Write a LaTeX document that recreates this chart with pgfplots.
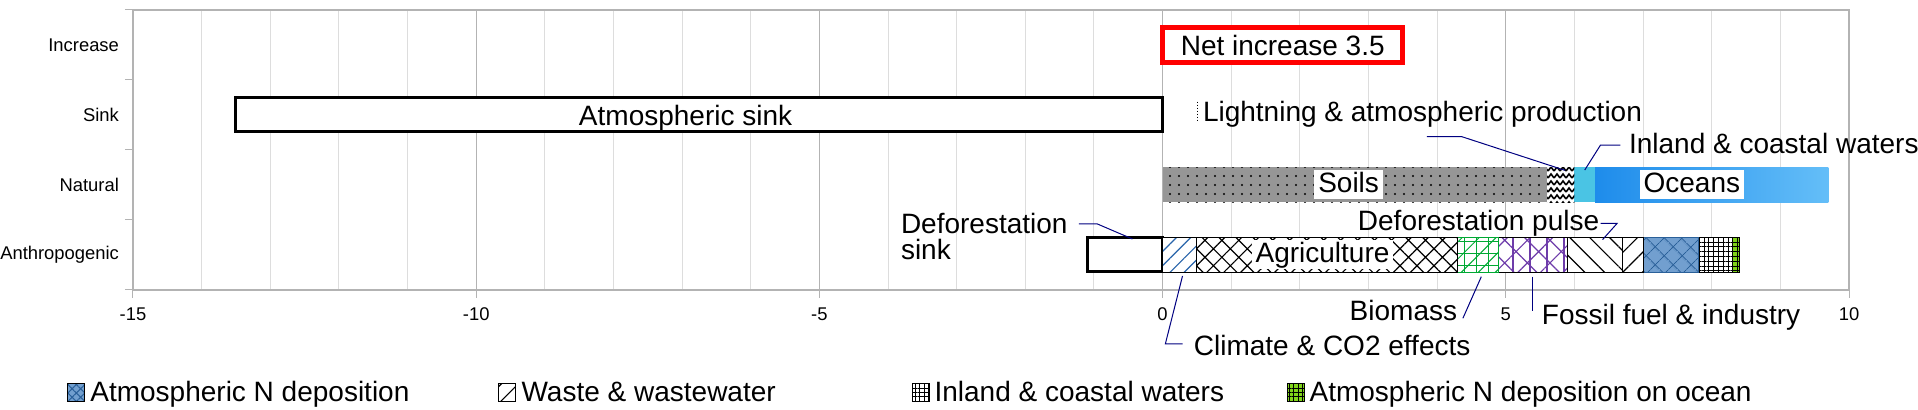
\documentclass[border=0pt]{standalone}
\usepackage{fontspec}
\setmainfont{Liberation Sans}
\usepackage{pgfplots}
\pgfplotsset{compat=1.18}
\usetikzlibrary{patterns,patterns.meta}

\definecolor{gridmaj}{RGB}{179,179,179}
\definecolor{gridmin}{RGB}{221,221,221}
\definecolor{leader}{RGB}{0,0,128}
\definecolor{soilgray}{RGB}{150,150,150}
\definecolor{oceanA}{RGB}{30,140,235}
\definecolor{oceanB}{RGB}{100,190,248}
\definecolor{inlandcyan}{RGB}{74,196,228}
\definecolor{climblue}{RGB}{40,100,170}
\definecolor{biogreen}{RGB}{0,169,51}
\definecolor{fosspurple}{RGB}{110,60,170}
\definecolor{atmblue}{RGB}{114,159,207}
\definecolor{atmdark}{RGB}{42,96,153}
\definecolor{ngreen}{RGB}{129,212,26}

\pgfdeclarepatternformonly{zigzag}{\pgfqpoint{-0.5pt}{-0.5pt}}{\pgfqpoint{3.5pt}{4pt}}{\pgfqpoint{3pt}{3.5pt}}{%
  \pgfsetlinewidth{0.8pt}%
  \pgfpathmoveto{\pgfqpoint{0pt}{0.5pt}}%
  \pgfpathlineto{\pgfqpoint{1.5pt}{2.5pt}}%
  \pgfpathlineto{\pgfqpoint{3pt}{0.5pt}}%
  \pgfusepath{stroke}}

\newcommand{\anfont}{\fontsize{14}{16}\selectfont}

\pgfplotsset{
  sqlegend/.style={legend image code/.code={\draw[##1] (0pt,-4.5pt) rectangle (8.5pt,4.5pt);}},
  baseax/.style={at={(0,0)}, anchor=south west, scale only axis, width=858pt, height=140pt,
    xmin=-15, xmax=10, ymin=-0.5, ymax=3.5},
}

\begin{document}
\begin{tikzpicture}
\useasboundingbox (-66.5pt,-60pt) rectangle (892.5pt,145pt);
% ---------------- main axis: frame, grid, single bars, legend
\begin{axis}[baseax,
  xtick={-15,-10,-5,0,5,10}, xticklabels={-15,-10,-5,0,5,10},
  minor x tick num=4, xmajorgrids, xminorgrids,
  major grid style={draw=gridmaj, line width=0.5pt},
  minor grid style={draw=gridmin, line width=0.5pt},
  ytick={-0.5,0.5,1.5,2.5,3.5}, yticklabels={,,,,},
  extra y ticks={0,1,2,3}, extra y tick labels={Anthropogenic,Natural,Sink,Increase},
  extra y tick style={tick style={draw=none}},
  tick align=outside, tick pos=left, major tick length=4pt, minor tick length=0pt,
  tick style={draw=gridmaj, line width=0.5pt},
  axis line style={draw=gridmaj, line width=0.6pt},
  tick label style={font=\fontsize{9.2}{11}\selectfont},
  yticklabel style={xshift=0.5pt},
  xticklabel style={yshift=-1.5pt},
  legend columns=4, legend cell align=left,
  legend style={at={(0,0)}, anchor=west, xshift=-33pt, yshift=-51.5pt, draw=none, fill=none,
    inner sep=0pt, font=\anfont, nodes={inner sep=0pt},
    /tikz/every odd column/.style={column sep=2.5pt}},
]
\addplot[xbar, bar shift=0pt, bar width=17.5pt, fill=white, draw=red, line width=2.4pt, forget plot] coordinates {(3.5,3)};
\addplot[xbar, bar shift=0pt, bar width=17pt, fill=white, draw=black, line width=1.5pt, forget plot] coordinates {(-13.5,2)};
\addplot[xbar, bar shift=0pt, bar width=17pt, fill=white, draw=black, line width=1.5pt, forget plot] coordinates {(-1.1,0)};

\addlegendimage{sqlegend, fill=atmblue, draw=black, line width=0.5pt, postaction={pattern={Hatch[angle=45,distance=3pt,line width=0.5pt]}, pattern color=atmdark}}
\addlegendentry{\makebox[204pt][l]{Atmospheric N deposition}}
\addlegendimage{sqlegend, fill=white, draw=black, line width=0.5pt, postaction={pattern={Lines[angle=45,distance=6pt,line width=0.6pt]}, pattern color=black}}
\addlegendentry{\makebox[195pt][l]{Waste \& wastewater}}
\addlegendimage{sqlegend, fill=white, draw=black, line width=0.5pt, postaction={pattern={Hatch[angle=0,distance=2.2pt,line width=0.4pt]}, pattern color=black}}
\addlegendentry{\makebox[176pt][l]{Inland \& coastal waters}}
\addlegendimage{sqlegend, fill=ngreen, draw=black, line width=0.5pt, postaction={pattern={Hatch[angle=0,distance=2.2pt,line width=0.4pt]}, pattern color=black}}
\addlegendentry{Atmospheric N deposition on ocean}
\end{axis}

% ---------------- natural sources (stacked)
\begin{axis}[baseax, hide axis, xbar stacked, bar width=17.5pt]
\addplot[fill=soilgray, draw=none, postaction={pattern={Dots[distance=4.5pt,radius=0.6pt]}, pattern color=black}] coordinates {(5.6,1)};
\addplot[fill=white, draw=none, postaction={pattern=zigzag, pattern color=black}] coordinates {(0.4,1)};
\addplot[fill=inlandcyan, draw=none] coordinates {(0.3,1)};
\addplot[left color=oceanA, right color=oceanB, draw=none] coordinates {(3.4,1)};
\end{axis}

% ---------------- anthropogenic sources (stacked)
\begin{axis}[baseax, hide axis, xbar stacked, bar width=17.5pt]
\addplot[fill=white, draw=black, line width=0.5pt, postaction={pattern={Lines[angle=45,distance=5pt,line width=0.6pt]}, pattern color=climblue}] coordinates {(0.5,0)};
\addplot[fill=white, draw=black, line width=0.5pt, postaction={pattern={Hatch[angle=45,distance=6pt,line width=0.6pt]}, pattern color=black}] coordinates {(3.8,0)};
\addplot[fill=white, draw=biogreen, line width=0.5pt, postaction={pattern={Hatch[angle=0,distance=6pt,line width=0.5pt]}, pattern color=biogreen}, postaction={pattern={Lines[angle=45,distance=6pt,line width=0.5pt]}, pattern color=biogreen}] coordinates {(0.6,0)};
\addplot[fill=white, draw=black, line width=0.5pt, postaction={pattern={Hatch[angle=45,distance=8pt,line width=0.6pt]}, pattern color=fosspurple}, postaction={pattern={Lines[angle=90,distance=8.5pt,line width=0.6pt]}, pattern color=fosspurple}] coordinates {(1.0,0)};
\addplot[fill=white, draw=black, line width=0.5pt, postaction={pattern={Lines[angle=-45,distance=7pt,line width=0.6pt]}, pattern color=black}] coordinates {(0.8,0)};
\addplot[fill=white, draw=black, line width=0.5pt, postaction={pattern={Lines[angle=45,distance=7pt,line width=0.6pt]}, pattern color=black}] coordinates {(0.3,0)};
\addplot[fill=atmblue, draw=atmdark, line width=0.5pt, postaction={pattern={Hatch[angle=45,distance=6.5pt,line width=0.5pt]}, pattern color=atmdark}] coordinates {(0.8,0)};
\addplot[fill=white, draw=black, line width=0.5pt, postaction={pattern={Hatch[angle=0,distance=2.4pt,line width=0.4pt]}, pattern color=black}] coordinates {(0.5,0)};
\addplot[fill=ngreen, draw=black, line width=0.5pt, postaction={pattern={Hatch[angle=0,distance=2.4pt,line width=0.4pt]}, pattern color=black}] coordinates {(0.1,0)};
\end{axis}

% ---------------- annotations on top
\begin{axis}[baseax, hide axis, clip=false]
\node[fill=white, inner xsep=2pt, inner ysep=0.5pt, text height=10.5pt, text depth=3pt, font=\anfont] at (axis cs:2.71,1) {Soils};
\node[fill=white, inner xsep=2pt, inner ysep=0.5pt, text height=10.5pt, text depth=3pt, font=\anfont] at (axis cs:7.71,1) {Oceans};
\node[fill=white, inner xsep=2pt, inner ysep=0.5pt, text height=10.5pt, text depth=3pt, font=\anfont] at (axis cs:2.33,0) {Agriculture};
\node[anchor=base, inner sep=0pt, font=\anfont] at (axis cs:1.75,2.857) {Net increase 3.5};
\node[anchor=base, inner sep=0pt, font=\anfont] at (axis cs:-6.95,1.843) {Atmospheric sink};
\node[anchor=base west, inner sep=0pt, font=\anfont] at (axis cs:0.583,1.904) {Lightning \& atmospheric production};
\node[anchor=base west, inner sep=0pt, font=\anfont] at (axis cs:6.79,1.443) {Inland \& coastal waters};
\node[anchor=base west, inner sep=0pt, font=\anfont] at (axis cs:2.84,0.357) {Deforestation pulse};
\node[anchor=base west, inner sep=0pt, font=\anfont] at (axis cs:-3.817,0.31) {Deforestation};
\node[anchor=base west, inner sep=0pt, font=\anfont] at (axis cs:-3.817,-0.061) {sink};
\node[anchor=base west, inner sep=0pt, font=\anfont] at (axis cs:0.45,-1.43) {Climate \& CO2 effects};
\node[anchor=base west, inner sep=0pt, font=\anfont] at (axis cs:2.72,-0.94) {Biomass};
\node[anchor=base west, inner sep=0pt, font=\anfont] at (axis cs:5.52,-1.0) {Fossil fuel \& industry};
\draw[leader, line width=0.5pt] (axis cs:3.85,1.69) -- (axis cs:4.36,1.69) -- (axis cs:5.86,1.21);
\draw[leader, line width=0.5pt] (axis cs:6.67,1.571) -- (axis cs:6.38,1.571) -- (axis cs:6.15,1.214);
\draw[leader, line width=0.5pt] (axis cs:6.38,0.45) -- (axis cs:6.62,0.45) -- (axis cs:6.41,0.22);
\draw[leader, line width=0.5pt] (axis cs:-1.22,0.443) -- (axis cs:-0.95,0.443) -- (axis cs:-0.44,0.229);
\draw[leader, line width=0.5pt] (axis cs:0.29,-0.3) -- (axis cs:0.04,-1.27) -- (axis cs:0.29,-1.27);
\draw[leader, line width=0.5pt] (axis cs:4.375,-0.904) -- (axis cs:4.643,-0.31);
\draw[leader, line width=0.5pt] (axis cs:5.39,-0.31) -- (axis cs:5.39,-0.796);
\draw[densely dotted, line width=0.5pt] (axis cs:0.505,2.19) -- (axis cs:0.505,1.9);
\end{axis}
\end{tikzpicture}
\end{document}
